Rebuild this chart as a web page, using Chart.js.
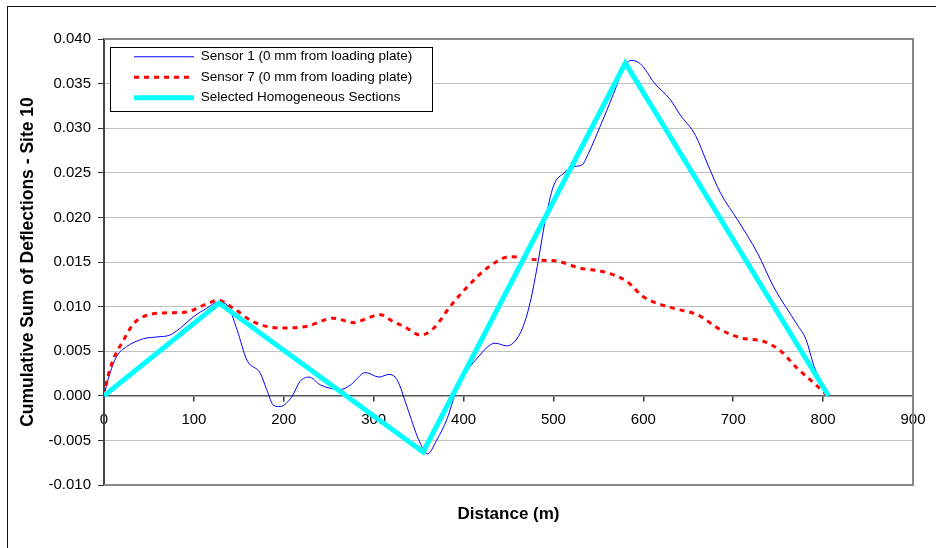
<!DOCTYPE html>
<html>
<head>
<meta charset="utf-8">
<title>Cumulative Sum of Deflections - Site 10</title>
<script src="https://cdn.jsdelivr.net/npm/chart.js@4.4.1/dist/chart.umd.min.js"></script>
<style>
  html, body { margin: 0; padding: 0; background: #fff; overflow: hidden; }
  #frame { position: absolute; left: 7px; top: 6px; width: 1000px; height: 700px;
           border-left: 1.5px solid #111; border-top: 1.5px solid #111; }
  #wrap { position: absolute; left: 0; top: 0; width: 936px; height: 548px; }
</style>
</head>
<body>
<div id="frame"></div>
<div id="wrap"><canvas id="cusumChart" width="936" height="548"></canvas></div>
<script>
// values (distance in m, cumulative sum)
const sensor1Dist = [0, 5, 14, 25, 44, 59, 73, 85, 100, 114, 127, 137, 148, 159, 174, 181, 189, 196, 209, 218,
  228, 241, 263, 274, 291, 306, 317, 326, 337, 350, 360, 370, 382, 391, 400, 415, 435, 448, 463, 473,
  482, 491, 500, 512, 523, 532, 539, 552, 567, 578, 586, 597, 612, 630, 641, 658, 671, 686, 705, 727,
  745, 771, 781, 790, 806];
const sensor1Vals = [0, 0.0020, 0.0044, 0.0055, 0.0064, 0.0066, 0.0068, 0.0076, 0.0089, 0.0098, 0.0105, 0.0102,
  0.0074, 0.0040, 0.0025, 0.0007, -0.0011, -0.0012, -0.0001, 0.0016, 0.0021, 0.0012, 0.0007, 0.0012, 0.0026,
  0.0021, 0.0024, 0.0018, -0.0012, -0.0049, -0.0065, -0.0050, -0.0025, 0.0003, 0.0022, 0.0042, 0.0059, 0.0056,
  0.0070, 0.0100, 0.0145, 0.0197, 0.0235, 0.0250, 0.0257, 0.0259, 0.0272, 0.0302, 0.0339, 0.0367, 0.0376,
  0.0372, 0.0351, 0.0332, 0.0315, 0.0292, 0.0261, 0.0227, 0.0197, 0.0160, 0.0122, 0.0080, 0.0063, 0.0033, 0];

const sensor7Dist = [0, 4, 10, 21, 33, 47, 70, 92, 114, 127, 144, 166, 196, 226, 255, 278, 293, 307, 322, 335,
  352, 367, 385, 404, 426, 452, 486, 504, 530, 556, 582, 600, 634, 660, 686, 708, 734, 753, 771, 790, 805];
const sensor7Vals = [0, 0.0020, 0.0040, 0.0061, 0.0081, 0.0090, 0.0093, 0.0094, 0.0103, 0.0107, 0.0098, 0.0083,
  0.0076, 0.0078, 0.0087, 0.0082, 0.0087, 0.0091, 0.0083, 0.0077, 0.0068, 0.0076, 0.0100, 0.0122, 0.0143,
  0.0156, 0.0152, 0.0151, 0.0143, 0.0139, 0.0128, 0.0111, 0.0098, 0.0091, 0.0074, 0.0065, 0.0061, 0.0050,
  0.0031, 0.0014, 0];

const sectionDist = [0, 128, 355, 580, 806];
const sectionVals = [0, 0.0104, -0.0063, 0.0373, 0];

const seriesNames = [
  'Sensor 1 (0 mm from loading plate)',
  'Sensor 7 (0 mm from loading plate)',
  'Selected Homogeneous Sections'
];

const toPoints = (xs, ys) => xs.map((x, i) => ({ x, y: ys[i] }));

const FONT = "'Liberation Sans', Arial, sans-serif";
Chart.defaults.font.family = FONT;
Chart.defaults.color = '#000';

// legend sits inside the plot, shifted off the corner, with a white boxed background
const LEG_DX = 23, LEG_DY = 4, LEG_PAD = 7, LEG_FONT = 13.5, LEG_LINE = 60;

const plotFrame = {
  id: 'plotFrame',
  afterLayout(chart) {
    const lg = chart.legend;
    const a = chart.chartArea;
    const w = lg.width, h = lg.height;
    lg.left = a.left + LEG_DX;
    lg.top = a.top + LEG_DY;
    lg.right = lg.left + w;
    lg.bottom = lg.top + h;
  },
  beforeDatasetsDraw(chart) {
    const { ctx, chartArea: a } = chart;
    const lg = chart.legend;
    ctx.save();
    ctx.strokeStyle = '#888';
    ctx.lineWidth = 2;
    ctx.beginPath();
    ctx.moveTo(a.left, a.top);
    ctx.lineTo(a.right, a.top);
    ctx.lineTo(a.right, a.bottom);
    ctx.lineTo(a.left, a.bottom);
    ctx.stroke();

    ctx.font = LEG_FONT + 'px ' + FONT;
    const maxText = Math.max(...seriesNames.map(t => ctx.measureText(t).width));
    const lineStart = lg.left + LEG_PAD;
    const rowTop = lg.top + LEG_PAD;
    const x0 = lineStart - 24;
    const x1 = lineStart + LEG_LINE + LEG_FONT / 2 + maxText + 20;
    const y0 = rowTop - 3.5;
    const y1 = rowTop + 2 * (LEG_FONT + LEG_PAD) + LEG_FONT / 2 + 12.7;
    ctx.fillStyle = '#fff';
    ctx.fillRect(x0, y0, x1 - x0, y1 - y0);
    ctx.strokeStyle = '#000';
    ctx.lineWidth = 1;
    ctx.strokeRect(Math.round(x0) + 0.5, Math.round(y0) + 0.5, Math.round(x1 - x0), Math.round(y1 - y0));
    ctx.restore();
    lg.draw();
  }
};

const ctx = document.getElementById('cusumChart').getContext('2d');

new Chart(ctx, {
  type: 'line',
  data: {
    datasets: [{
      label: seriesNames[0],
      data: toPoints(sensor1Dist, sensor1Vals),
      borderColor: '#0000ff',
      borderWidth: 1,
      cubicInterpolationMode: 'monotone',
      pointRadius: 0,
      pointHoverRadius: 0,
      pointStyle: 'line',
      fill: false,
      order: 3
    }, {
      label: seriesNames[1],
      data: toPoints(sensor7Dist, sensor7Vals),
      borderColor: '#ff0000',
      borderWidth: 3,
      borderDash: [5, 5],
      cubicInterpolationMode: 'monotone',
      pointRadius: 0,
      pointHoverRadius: 0,
      pointStyle: 'line',
      fill: false,
      order: 2
    }, {
      label: seriesNames[2],
      data: toPoints(sectionDist, sectionVals),
      borderColor: '#00ffff',
      borderWidth: 5,
      tension: 0,
      pointRadius: 0,
      pointHoverRadius: 0,
      pointStyle: 'line',
      fill: false,
      order: 1
    }]
  },
  options: {
    responsive: false,
    animation: false,
    devicePixelRatio: 1,
    events: [],
    layout: { padding: { left: 10, right: 23, top: 39, bottom: 23.6 } },
    scales: {
      x: {
        type: 'linear',
        position: { y: 0 },
        min: 0,
        max: 900,
        afterFit(scale) { scale.height = 0; },
        ticks: { stepSize: 100, autoSkip: false, maxRotation: 0, padding: 10, color: '#000', font: { size: 15 } },
        grid: { drawOnChartArea: false, tickLength: 5, tickColor: '#333', lineWidth: 1.5 },
        border: { color: '#555', width: 1.5 }
      },
      y: {
        min: -0.01,
        max: 0.04,
        afterFit(scale) { scale.width = 94; },
        ticks: {
          stepSize: 0.005,
          padding: 7,
          color: '#000',
          font: { size: 15 },
          callback: v => (Math.abs(v) < 1e-9 ? 0 : v).toFixed(3)
        },
        grid: { color: '#c0c0c0', lineWidth: 1, tickLength: 6, tickColor: '#333' },
        border: { color: '#444', width: 2 },
        title: {
          display: true,
          text: 'Cumulative Sum of Deflections - Site 10',
          color: '#000',
          font: { size: 17.5, weight: 'bold' },
          padding: { top: 8, bottom: 0 }
        }
      }
    },
    plugins: {
      legend: {
        position: 'chartArea',
        align: 'start',
        labels: {
          usePointStyle: true,
          pointStyleWidth: LEG_LINE,
          boxHeight: LEG_FONT,
          padding: LEG_PAD,
          color: '#000',
          font: { size: LEG_FONT },
          sort: (a, b) => a.datasetIndex - b.datasetIndex,
          generateLabels: chart => Chart.defaults.plugins.legend.labels.generateLabels(chart)
            .map(item => ({ ...item, lineDash: chart.data.datasets[item.datasetIndex].borderDash || [] }))
        }
      },
      title: {
        display: true,
        position: 'bottom',
        fullSize: false,
        text: 'Distance (m)',
        color: '#000',
        font: { size: 17, weight: 'bold' },
        padding: { top: 19, bottom: 0 }
      },
      tooltip: { enabled: false }
    }
  },
  plugins: [plotFrame]
});
</script>
</body>
</html>
